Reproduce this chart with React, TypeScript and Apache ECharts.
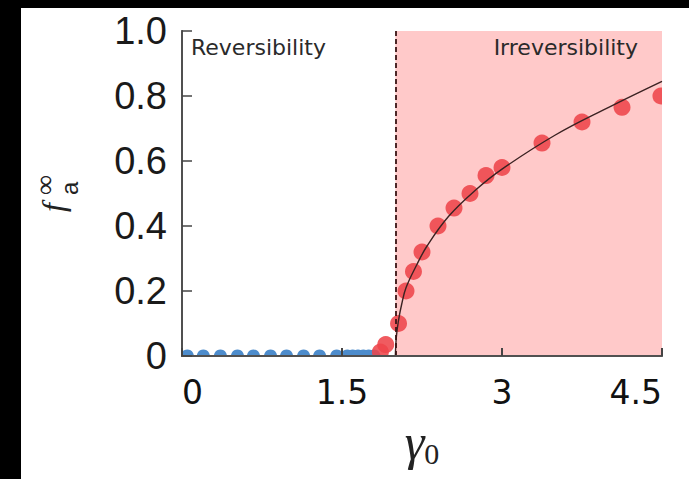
import React, { useEffect, useRef } from "react";
import * as echarts from "echarts";

// ---- data ----
const xTicks = [0, 1.5, 3, 4.5];
const yTicks = [0, 0.2, 0.4, 0.6, 0.8, 1.0];
const threshold = 2.0;

// reversible regime (blue, f = 0)
const bluePoints: [number, number][] = [
  [0.05, 0], [0.2, 0], [0.36, 0], [0.52, 0], [0.67, 0], [0.83, 0], [0.98, 0],
  [1.14, 0], [1.29, 0], [1.45, 0], [1.55, 0], [1.6, 0], [1.65, 0], [1.7, 0],
  [1.75, 0], [1.8, 0],
];

// irreversible regime (red)
const redPoints: [number, number][] = [
  [1.86, 0.012], [1.91, 0.035], [2.03, 0.1], [2.1, 0.2], [2.17, 0.26],
  [2.25, 0.32], [2.4, 0.4], [2.55, 0.455], [2.7, 0.5], [2.85, 0.555],
  [3.0, 0.58], [3.375, 0.655], [3.75, 0.72], [4.125, 0.765], [4.49, 0.8],
];

// fitted curve
const fitCurve: [number, number][] = [
  [2.0, 0], [2.01, 0.06], [2.03, 0.11], [2.06, 0.16], [2.1, 0.21],
  [2.2, 0.28], [2.3, 0.34], [2.5, 0.43], [2.75, 0.51], [3.0, 0.575],
  [3.5, 0.68], [4.0, 0.765], [4.5, 0.845],
];

const leftLabel = "Reversibility";
const rightLabel = "Irreversibility";

export default function App() {
  const ref = useRef<HTMLDivElement>(null);
  useEffect(() => {
    if (!ref.current) return;
    const chart = echarts.init(ref.current, null, { renderer: "svg" });
    const dot = (color: string, r: number) => (params: any, api: any) => {
      const p = api.coord([api.value(0), api.value(1)]);
      return {
        type: "circle",
        shape: { cx: p[0], cy: p[1], r },
        style: { fill: color },
      };
    };
    const axisLineColor = "#444";
    chart.setOption({
      animation: false,
      backgroundColor: "#ffffff",
      grid: { left: 182, top: 31, width: 480, height: 325, containLabel: false },
      xAxis: [
        {
          type: "value",
          min: xTicks[0],
          max: xTicks[xTicks.length - 1],
          interval: 1.5,
          z: 10,
          axisLine: { show: true, lineStyle: { color: axisLineColor, width: 2 } },
          axisTick: { show: true, inside: true, length: 8, lineStyle: { color: "#444", width: 2 } },
          splitLine: { show: false },
          axisLabel: {
            margin: 20,
            fontFamily: "DejaVu Sans",
            fontSize: 33,
            color: "#111",
            alignMinLabel: "left",
            alignMaxLabel: "right",
            formatter: (v: number) => String(v),
          },
          name: "{g|γ}{s|0}",
          nameLocation: "middle",
          nameGap: 60,
          nameTextStyle: {
            rich: {
              g: { fontFamily: "Liberation Serif", fontStyle: "italic", fontSize: 50, color: "#222" },
              s: { fontFamily: "Liberation Serif", fontSize: 30, color: "#222", verticalAlign: "bottom", padding: [22, 0, 0, 0] },
            },
          },
        },
        {
          type: "value",
          position: "top",
          min: xTicks[0],
          max: xTicks[xTicks.length - 1],
          z: 10,
          axisLine: { show: true, lineStyle: { color: "#555", width: 1.5 } },
          axisTick: { show: false },
          axisLabel: { show: false },
          splitLine: { show: false },
        },
      ],
      yAxis: [
        {
          type: "value",
          min: yTicks[0],
          max: yTicks[yTicks.length - 1],
          interval: 0.2,
          z: 10,
          axisLine: { show: true, lineStyle: { color: axisLineColor, width: 2 } },
          axisTick: { show: true, inside: true, length: 10, lineStyle: { color: "#444", width: 1.5 } },
          splitLine: { show: false },
          axisLabel: {
            margin: 15,
            fontFamily: "Liberation Sans",
            fontSize: 38,
            color: "#1a1a1a",
            formatter: (v: number) => (v === 0 ? "0" : v.toFixed(1)),
          },
        },
        {
          type: "value",
          position: "right",
          min: yTicks[0],
          max: yTicks[yTicks.length - 1],
          z: 10,
          axisLine: { show: true, lineStyle: { color: "#555", width: 1.5 } },
          axisTick: { show: false },
          axisLabel: { show: false },
          splitLine: { show: false },
        },
      ],
      series: [
        {
          type: "line",
          data: [],
          z: 1,
          silent: true,
          markArea: {
            silent: true,
            itemStyle: { color: "#ffc9c9" },
            data: [[{ xAxis: threshold }, { xAxis: xTicks[xTicks.length - 1] }]],
          },
        },
        {
          type: "custom",
          clip: true,
          z: 3,
          data: bluePoints,
          encode: { x: 0, y: 1 },
          renderItem: dot("#4d8ccc", 6.5),
        },
        {
          type: "custom",
          clip: true,
          z: 3,
          data: redPoints,
          encode: { x: 0, y: 1 },
          renderItem: dot("rgba(238,68,74,0.88)", 8.5),
        },
        {
          type: "line",
          data: fitCurve,
          smooth: 0.4,
          symbol: "none",
          z: 4,
          lineStyle: { color: "#3a2222", width: 1.4 },
        },
        {
          type: "line",
          data: [],
          z: 5,
          markLine: {
            silent: true,
            symbol: "none",
            label: { show: false },
            lineStyle: { color: "#3a1515", type: [5, 3], width: 1.8 },
            data: [{ xAxis: threshold }],
          },
        },
      ],
      graphic: [
        { type: "rect", z: 100, shape: { x: 0, y: 0, width: 21, height: 479 }, style: { fill: "#000" } },
        { type: "rect", z: 100, shape: { x: 0, y: 0, width: 689, height: 8 }, style: { fill: "#000" } },
        {
          type: "text", z: 50, left: 191, top: 36,
          style: { text: leftLabel, font: '22px "DejaVu Sans"', fill: "#2a2a2a" },
        },
        {
          type: "text", z: 50, right: 51, top: 36,
          style: { text: rightLabel, font: '22px "DejaVu Sans"', fill: "#2a2a2a" },
        },
        {
          type: "group",
          x: 53,
          y: 212,
          rotation: Math.PI / 2,
          z: 50,
          children: [
            { type: "text", x: 0, y: 0, style: { text: "f", font: 'italic 32px "Liberation Serif"', fill: "#222", verticalAlign: "middle", align: "left" } },
            { type: "text", x: 17, y: -9, style: { text: "∞", font: '28px "Liberation Serif"', fill: "#222", verticalAlign: "middle", align: "left" } },
            { type: "text", x: 17, y: 16, style: { text: "a", font: '24px "Liberation Sans"', fill: "#222", verticalAlign: "middle", align: "left" } },
          ],
        },
      ],
    });
    return () => chart.dispose();
  }, []);
  return (
    <div
      ref={ref}
      style={{ position: "fixed", left: 0, top: 0, width: 689, height: 479, background: "#fff" }}
    />
  );
}
